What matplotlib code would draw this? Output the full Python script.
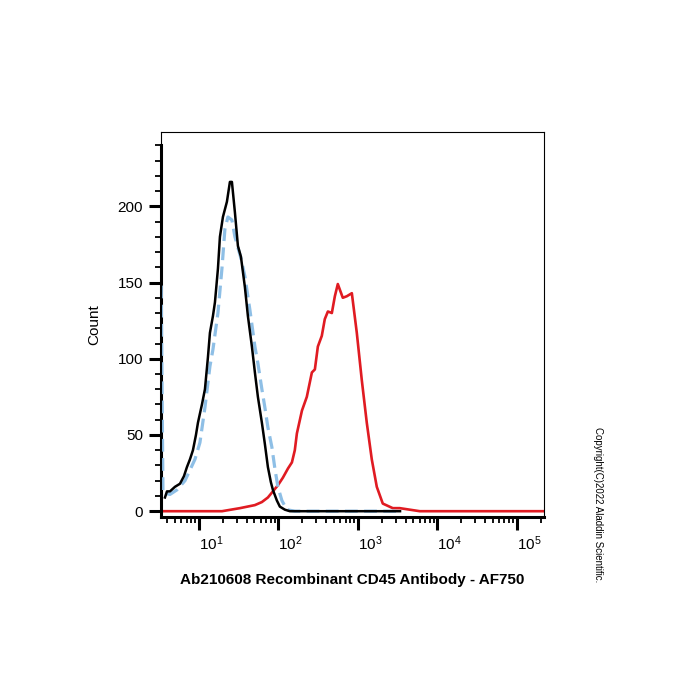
import matplotlib
matplotlib.use("Agg")
import matplotlib.pyplot as plt
import matplotlib.ticker as mticker
import numpy as np

plt.rcParams['font.family'] = ['Liberation Sans', 'DejaVu Sans']
plt.rcParams['mathtext.fontset'] = 'custom'
plt.rcParams['mathtext.rm'] = 'Liberation Sans'
plt.rcParams['mathtext.it'] = 'Liberation Sans:italic'
plt.rcParams['mathtext.bf'] = 'Liberation Sans:bold'

# isotype / unstained control (black, solid)
black_x = [3.735, 3.959, 4.318, 4.991, 5.768, 6.478, 7.067, 7.705, 8.404, 9.169,
           9.714, 10.29, 10.91, 11.90, 12.98, 13.75, 15.00, 15.90, 17.34, 18.37,
           20.04, 22.50, 24.54, 26.01, 28.37, 30.95, 33.75, 37.89, 41.34, 46.42,
           50.63, 55.23, 62.01, 67.64, 73.78, 80.48, 85.30, 95.75, 104.4, 120.7,
           139.5, 3400]
black_y = [9, 13, 13, 16, 18, 23, 29, 34, 40, 50,
           58, 64, 70, 80, 101, 117, 128, 137, 159, 180,
           193, 203, 216, 216, 196, 174, 167, 147, 128, 108,
           91, 75, 58, 44, 29, 19, 14, 7, 3, 1,
           0, 0]

# second control (light blue, dashed)
blue_x = [3.35, 3.525, 4.318, 5.287, 6.668, 7.705, 8.906, 10.29, 11.90, 13.75,
          15.00, 17.34, 19.47, 21.23, 23.16, 26.01, 28.37, 33.75, 37.89, 43.82,
          50.63, 55.23, 62.01, 67.64, 73.78, 82.85, 90.36, 98.6, 110.7, 127.9,
          161.3, 3400]
blue_y = [148, 12, 11, 14, 20, 27, 34, 45, 68, 95,
          106, 130, 159, 185, 193, 191, 180, 166, 154, 132,
          108, 97, 80, 68, 55, 42, 28, 16, 7, 1,
          0, 0]

# CD45 AF750 stained (red)
red_x = [3.33, 19.5, 32.8, 50.6, 62.0, 73.8, 85.3, 98.6, 114, 132,
         148, 161, 171, 198, 228, 264, 288, 314, 352, 384,
         420, 471, 514, 560, 647, 727, 841, 971, 1122, 1297,
         1499, 1733, 2062, 2754, 3375, 4508, 6026, 2.2e5]
red_y = [0, 0, 2, 4, 6, 9, 13, 17, 22, 28,
         32, 40, 51, 66, 75, 91, 93, 108, 115, 126,
         131, 130, 141, 149, 140, 141, 143, 117, 86, 58,
         34, 16, 5, 2, 2, 1, 0, 0]

x_ticks = [10, 100, 1000, 10000, 100000]
x_tick_labels = [r'$\mathregular{10^{1}}$', r'$\mathregular{10^{2}}$', r'$\mathregular{10^{3}}$',
                 r'$\mathregular{10^{4}}$', r'$\mathregular{10^{5}}$']
y_ticks = [0, 50, 100, 150, 200]

fig = plt.figure(figsize=(7, 7), dpi=100)
ax = fig.add_axes([0.23, 0.261, 0.547, 0.551])

ax.plot(red_x, red_y, color='#e01b22', lw=1.9, zorder=2)
ax.plot(blue_x, blue_y, color='#8ebfe6', lw=2.3, linestyle=(0, (4, 2)), zorder=3)
ax.plot(black_x, black_y, color='black', lw=1.8, zorder=4)

ax.set_xscale('log')
ax.set_xlim(3.33, 2.2e5)
ax.set_ylim(-4, 249)

ax.set_xticks(x_ticks)
ax.set_xticklabels(x_tick_labels, fontsize=11, ha='left')
ax.xaxis.set_minor_locator(mticker.LogLocator(base=10, subs=np.arange(2, 10), numticks=20))
ax.xaxis.set_minor_formatter(mticker.NullFormatter())

ax.set_yticks(y_ticks)
ax.set_yticklabels([str(v) for v in y_ticks], fontsize=11)
ax.yaxis.set_minor_locator(mticker.FixedLocator([v for v in range(0, 250, 10) if v % 50]))

ax.tick_params(axis='both', which='major', direction='out', length=9, width=2.2, color='black')
ax.tick_params(axis='both', which='minor', direction='out', length=4.5, width=1.3, color='black')
ax.tick_params(axis='x', which='major', pad=3)
ax.tick_params(axis='y', which='major', pad=4)

for side in ['top', 'right']:
    ax.spines[side].set_linewidth(0.8)
ax.spines['bottom'].set_linewidth(2.2)
ax.spines['left'].set_linewidth(2.2)
ax.spines['left'].set_bounds(-4, 240)
ax.plot([0, 0], [0, 1], transform=ax.transAxes, color='black', lw=0.8, clip_on=False, zorder=5)

ax.set_ylabel('Count', fontsize=11, va='center')
ax.yaxis.set_label_coords(-0.175, 0.5)
ax.set_xlabel('Ab210608 Recombinant CD45 Antibody - AF750', fontsize=11, fontweight='bold', va='center')
ax.xaxis.set_label_coords(0.499, -0.163)

fig.text(598 / 700, 1 - 505 / 700, 'Copyright(C)2022 Aladdin Scientific.', rotation=270,
         fontsize=7, ha='center', va='center')

fig.savefig('out.png', dpi=100)
